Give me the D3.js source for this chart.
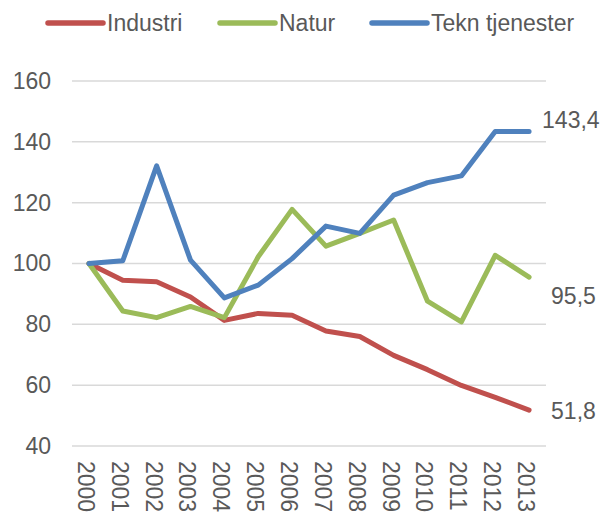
<!DOCTYPE html>
<html>
<head>
<meta charset="utf-8">
<script src="https://cdn.jsdelivr.net/npm/d3@7"></script>
<style>
  body { margin: 0; background: #fff; }
  text { font-family: "Liberation Sans", Arial, sans-serif; fill: #595959; }
</style>
</head>
<body>
<script>
// Data (index, 2000 = 100)
const years = ['2000', '2001', '2002', '2003', '2004', '2005', '2006',
  '2007', '2008', '2009', '2010', '2011', '2012', '2013'];
const industri = [100, 94.5, 94.0, 89.0, 81.3, 83.6, 83.0, 77.8, 76.0, 69.8, 65.1, 59.9, 56.0, 51.8];
const natur = [100, 84.4, 82.2, 85.9, 82.2, 102.2, 117.8, 105.7, 109.9, 114.3, 87.6, 80.8, 102.7, 95.5];
const tekn = [100, 100.9, 132.1, 101.1, 88.7, 92.9, 101.6, 112.3, 109.9, 122.5, 126.6, 128.8, 143.4, 143.4];
const seriesNames = ['Industri', 'Natur', 'Tekn tjenester'];
const yTicks = [40, 60, 80, 100, 120, 140, 160];

const colors = ['#C0504D', '#9BBB59', '#4F81BD'];
const series = [industri, natur, tekn].map((values, i) => ({
  name: seriesNames[i], values, color: colors[i]
}));

// Set up the SVG
const W = 603, H = 513;
const margin = { top: 81, right: 57, bottom: 67, left: 72 };
const width = W - margin.left - margin.right;
const height = H - margin.top - margin.bottom;

const root = d3.select('body')
  .append('svg')
  .attr('width', W)
  .attr('height', H);

const svg = root.append('g')
  .attr('transform', `translate(${margin.left}, ${margin.top})`);

// Scales
const xScale = d3.scaleBand()
  .domain(years)
  .range([0, width]);

const yScale = d3.scaleLinear()
  .domain([40, 160])
  .range([height, 0]);

const xc = d => xScale(d) + xScale.bandwidth() / 2;

// Gridlines
svg.selectAll('.grid')
  .data(yTicks)
  .enter()
  .append('line')
  .attr('x1', 0)
  .attr('x2', width)
  .attr('y1', d => yScale(d))
  .attr('y2', d => yScale(d))
  .attr('stroke', '#D9D9D9')
  .attr('stroke-width', 1.5);

// Y axis
const yAxis = d3.axisLeft(yScale)
  .tickValues(yTicks)
  .tickSize(0)
  .tickPadding(21);

svg.append('g')
  .attr('class', 'y-axis')
  .call(yAxis)
  .call(g => g.select('.domain').remove())
  .selectAll('text')
  .style('font-size', '23px')
  .style('font-family', '"Liberation Sans", Arial, sans-serif')
  .attr('fill', '#595959');

// X axis labels, rotated
svg.append('g')
  .attr('class', 'x-axis')
  .selectAll('text')
  .data(years)
  .enter()
  .append('text')
  .attr('transform', d => `translate(${xc(d) - 3}, ${height + 15}) rotate(90)`)
  .attr('dy', '0.35em')
  .style('font-size', '23px')
  .text(d => d);

// Lines
const line = d3.line()
  .x((d, i) => xc(years[i]))
  .y(d => yScale(d));

svg.selectAll('.series')
  .data(series)
  .enter()
  .append('path')
  .attr('class', 'series')
  .attr('d', d => line(d.values))
  .attr('fill', 'none')
  .attr('stroke', d => d.color)
  .attr('stroke-width', 5)
  .attr('stroke-linejoin', 'round')
  .attr('stroke-linecap', 'round');

// End labels (moved like in the original to avoid overlap)
const labelOffset = [{ dx: 22, dy: 1 }, { dx: 22, dy: 19 }, { dx: 13, dy: -12 }];
const fmt = v => d3.format('.1f')(v).replace('.', ',');

svg.selectAll('.end-label')
  .data(series)
  .enter()
  .append('text')
  .attr('class', 'end-label')
  .attr('x', (d, i) => xc(years[years.length - 1]) + labelOffset[i].dx)
  .attr('y', (d, i) => yScale(d.values[d.values.length - 1]) + labelOffset[i].dy)
  .attr('dy', '0.35em')
  .style('font-size', '23px')
  .text(d => fmt(d.values[d.values.length - 1]));

// Legend
const legendX = [48, 220, 372];
const legend = root.append('g')
  .selectAll('g')
  .data(series)
  .enter()
  .append('g')
  .attr('transform', (d, i) => `translate(${legendX[i]}, 23)`);

legend.append('line')
  .attr('x1', 0)
  .attr('x2', 55)
  .attr('stroke', d => d.color)
  .attr('stroke-width', 5.5)
  .attr('stroke-linecap', 'round');

legend.append('text')
  .attr('x', 59)
  .attr('dy', '0.35em')
  .style('font-size', '23px')
  .text(d => d.name);
</script>
</body>
</html>
